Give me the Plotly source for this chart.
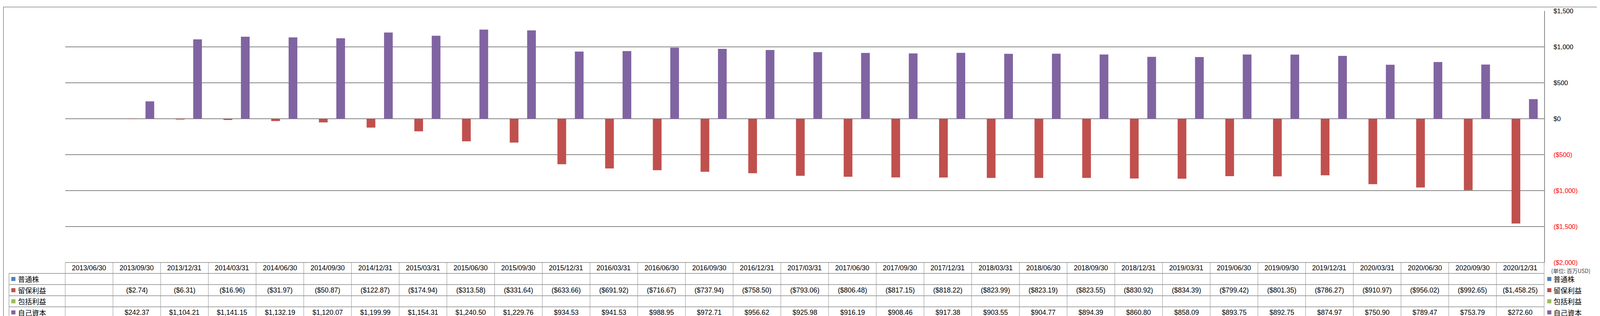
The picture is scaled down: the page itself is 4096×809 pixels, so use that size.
import plotly.graph_objects as go

dates = ["2013/06/30", "2013/09/30", "2013/12/31", "2014/03/31", "2014/06/30", "2014/09/30",
         "2014/12/31", "2015/03/31", "2015/06/30", "2015/09/30", "2015/12/31", "2016/03/31",
         "2016/06/30", "2016/09/30", "2016/12/31", "2017/03/31", "2017/06/30", "2017/09/30",
         "2017/12/31", "2018/03/31", "2018/06/30", "2018/09/30", "2018/12/31", "2019/03/31",
         "2019/06/30", "2019/09/30", "2019/12/31", "2020/03/31", "2020/06/30", "2020/09/30",
         "2020/12/31"]
common_stock = [None] * 31
retained = [None, -2.74, -6.31, -16.96, -31.97, -50.87, -122.87, -174.94, -313.58, -331.64,
            -633.66, -691.92, -716.67, -737.94, -758.50, -793.06, -806.48, -817.15, -818.22,
            -823.99, -823.19, -823.55, -830.92, -834.39, -799.42, -801.35, -786.27, -910.97,
            -956.02, -992.65, -1458.25]
comprehensive = [None] * 31
equity = [None, 242.37, 1104.21, 1141.15, 1132.19, 1120.07, 1199.99, 1154.31, 1240.50, 1229.76,
          934.53, 941.53, 988.95, 972.71, 956.62, 925.98, 916.19, 908.46, 917.38, 903.55,
          904.77, 894.39, 860.80, 858.09, 893.75, 892.75, 874.97, 750.90, 789.47, 753.79,
          272.60]
series_names = ["普通株", "留保利益", "包括利益", "自己資本"]
series_colors = ["#4F81BD", "#C0504D", "#9BBB59", "#8064A2"]
series_values = [common_stock, retained, comprehensive, equity]
y_ticks = [1500, 1000, 500, 0, -500, -1000, -1500, -2000]
unit_label = "(単位: 百万USD)"

W, H = 4096, 809
L, R, T, B = 159, 151, 11, 145
PW, PH = W - L - R, H - T - B
N = len(dates)

def px_x(px):
    return (px - L) / PW

def px_y(py):
    return 1 - (py - T) / PH

def money(v):
    if v is None:
        return ""
    s = "${:,.2f}".format(abs(v))
    return "(" + s + ")" if v < 0 else s

def tick_text(v):
    s = "${:,.0f}".format(abs(v))
    if v < 0:
        return '<span style="color:#FF0000">(' + s + ')</span>'
    return s

fig = go.Figure()
for name, color, vals in zip(series_names, series_colors, series_values):
    fig.add_trace(go.Bar(x=dates, y=vals, name=name, marker=dict(color=color, line=dict(width=0)),
                         showlegend=False))

grid = "#868686"
tline = "#8C8C8C"
shapes = []
annotations = []

# table geometry (window pixels)
row_edges = [664, 692.3, 721.3, 750.5, 779, 808]
row_centers = [(row_edges[i] + row_edges[i + 1]) / 2 for i in range(5)]
left_col_x = 15
right_edge = L + PW

# horizontal table lines
shapes.append(dict(type="line", xref="paper", yref="paper", x0=0, x1=1,
                   y0=px_y(row_edges[0]), y1=px_y(row_edges[0]), line=dict(color=grid, width=1.5)))
for ye in row_edges[1:]:
    shapes.append(dict(type="line", xref="paper", yref="paper", x0=px_x(left_col_x), x1=1,
                       y0=px_y(ye), y1=px_y(ye), line=dict(color=grid, width=1.5)))
# vertical table lines
for i in range(N + 1):
    shapes.append(dict(type="line", xref="paper", yref="paper", x0=i / N, x1=i / N,
                       y0=px_y(row_edges[0]), y1=px_y(row_edges[-1]), line=dict(color=tline, width=1)))
shapes.append(dict(type="line", xref="paper", yref="paper", x0=px_x(left_col_x), x1=px_x(left_col_x),
                   y0=px_y(row_edges[1]), y1=px_y(row_edges[-1]), line=dict(color=tline, width=1.2)))
# outer chart border
shapes.append(dict(type="rect", xref="paper", yref="paper", x0=px_x(0.75), x1=px_x(W - 0.75),
                   y0=px_y(H - 0.75), y1=px_y(0.75), line=dict(color=grid, width=1.5)))

tfont = dict(family="Liberation Sans, Noto Sans CJK JP", size=17.5, color="#000000")
cjk = dict(family="Noto Sans CJK JP", size=18, color="#000000")

# header dates
for d in dates:
    annotations.append(dict(x=d, xref="x", yref="paper", y=px_y(row_centers[0]), text=d,
                            showarrow=False, font=tfont, xanchor="center", yanchor="middle"))
# data rows
for r, (name, color, vals) in enumerate(zip(series_names, series_colors, series_values)):
    yc = row_centers[r + 1]
    for d, v in zip(dates, vals):
        if v is not None:
            annotations.append(dict(x=d, xref="x", yref="paper", y=px_y(yc), text=money(v),
                                    showarrow=False, font=tfont, xanchor="center", yanchor="middle"))
    # left legend key
    sq = 10.5
    shapes.append(dict(type="rect", xref="paper", yref="paper", x0=px_x(21), x1=px_x(21 + sq),
                       y0=px_y(yc + sq / 2), y1=px_y(yc - sq / 2), fillcolor=color, line=dict(width=0)))
    annotations.append(dict(xref="paper", yref="paper", x=px_x(36), y=px_y(yc), text=name,
                            showarrow=False, font=cjk, xanchor="left", yanchor="middle"))
    # right legend key
    shapes.append(dict(type="rect", xref="paper", yref="paper", x0=px_x(3953), x1=px_x(3953 + sq),
                       y0=px_y(yc + sq / 2), y1=px_y(yc - sq / 2), fillcolor=color, line=dict(width=0)))
    annotations.append(dict(xref="paper", yref="paper", x=px_x(3967), y=px_y(yc), text=name,
                            showarrow=False, font=cjk, xanchor="left", yanchor="middle"))

annotations.append(dict(xref="paper", yref="paper", x=px_x(3961), y=px_y(685), text=unit_label,
                        showarrow=False, font=dict(family="Noto Sans CJK JP", size=14, color="#404040"),
                        xanchor="left", yanchor="middle"))

fig.update_layout(
    width=W, height=H,
    margin=dict(l=L, r=R, t=T, b=B, pad=0),
    paper_bgcolor="white", plot_bgcolor="white",
    barmode="group", bargap=0.27, bargroupgap=0,
    font=dict(family="Liberation Sans, Noto Sans CJK JP", size=16.6, color="#000000"),
    shapes=shapes, annotations=annotations,
    xaxis=dict(type="category", categoryorder="array", categoryarray=dates,
               showticklabels=False, showgrid=False, zeroline=False, showline=False, ticks=""),
    yaxis=dict(side="right", range=[-2000, 1500], tickvals=y_ticks,
               ticktext=[tick_text(v) for v in y_ticks],
               showgrid=True, gridcolor=grid, gridwidth=1.5,
               zeroline=True, zerolinecolor=grid, zerolinewidth=1.5,
               showline=True, linecolor=grid, linewidth=1.5,
               ticks="outside", ticklen=19, tickcolor="rgba(0,0,0,0)",
               tickfont=dict(family="Liberation Sans", size=16.6, color="#000000")),
)

fig.write_html("out.html")
